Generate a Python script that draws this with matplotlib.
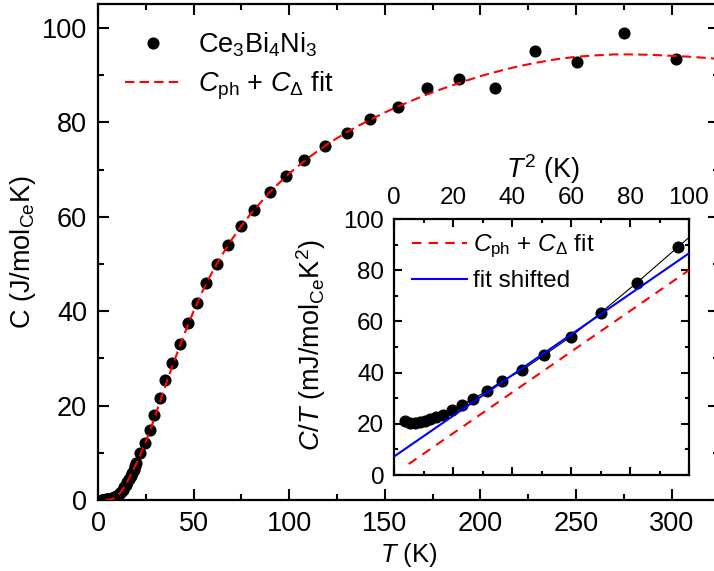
import numpy as np
import matplotlib
matplotlib.use('Agg')
import matplotlib.pyplot as plt
from matplotlib.ticker import MultipleLocator

plt.rcParams['font.family'] = ['Liberation Sans', 'DejaVu Sans']
plt.rcParams['mathtext.fontset'] = 'custom'
plt.rcParams['mathtext.rm'] = 'Liberation Sans'
plt.rcParams['mathtext.it'] = 'Liberation Sans:italic'
plt.rcParams['mathtext.bf'] = 'Liberation Sans:bold'

# calor especifico medido, C (J/mol_Ce K) vs T (K)
temp = [1.9, 2.3, 2.7, 3.0, 3.2, 3.5, 3.75, 4.06, 4.42, 4.79, 5.17, 5.62, 6.06,
        6.6, 7.14, 7.74, 8.37, 9.07, 9.82, 10.6, 11.4, 12.2, 13.0, 13.8, 14.6,
        15.4, 16.2, 17.0, 17.8, 18.6, 19.4, 20.1, 21.9, 24.5, 27.1, 29.3, 32.3,
        35.3, 38.7, 42.7, 47.0, 51.7, 56.6, 62.1, 67.9, 74.7, 81.8, 89.9, 98.4,
        107.8, 118.9, 130.0, 142.5, 156.9, 172.0, 189.0, 207.6, 228.5, 250.4,
        275.0, 302.2]
heat = [0.04, 0.05, 0.05, 0.06, 0.07, 0.08, 0.08, 0.10, 0.11, 0.13, 0.15, 0.18,
        0.22, 0.27, 0.34, 0.42, 0.53, 0.68, 0.87, 1.1, 1.4, 1.8, 2.2, 2.7, 3.2,
        3.8, 4.4, 5.0, 5.7, 6.4, 7.1, 7.9, 9.9, 12.1, 14.9, 18.0, 21.6, 25.4,
        29.1, 33.1, 37.4, 41.7, 45.9, 50.0, 54.1, 58.0, 61.5, 65.2, 68.7, 72.1,
        75.0, 77.7, 80.7, 83.3, 87.2, 89.1, 87.2, 95.1, 92.8, 99.0, 93.4]

# ajuste C_ph + C_delta
fit_temp = [4, 6, 8, 10, 12, 14, 16, 18, 20, 22, 25, 28, 32, 36, 40, 45, 50, 55,
            60, 65, 70, 75, 80, 90, 100, 110, 120, 130, 140, 150, 160, 170, 180,
            190, 200, 210, 220, 230, 240, 250, 260, 270, 280, 290, 300, 310, 320,
            330]
fit_heat = [0.0, 0.05, 0.3, 0.8, 1.7, 2.9, 4.4, 6.0, 7.7, 9.5, 12.4, 15.6, 20.3,
            25.1, 29.6, 35.0, 40.0, 44.5, 48.5, 52.0, 55.2, 58.1, 60.7, 65.3,
            69.2, 72.5, 75.4, 77.9, 80.1, 82.1, 83.9, 85.6, 87.1, 88.5, 89.8,
            90.9, 91.9, 92.7, 93.4, 93.9, 94.2, 94.4, 94.4, 94.3, 94.1, 93.9,
            93.6, 93.3]

# inset: C/T (mJ/mol_Ce K^2) vs T^2
t2 = [3.7, 5.4, 7.1, 8.8, 10.5, 12.2, 14.1, 16.5, 19.5, 22.9, 26.7, 31.6, 36.7,
      43.5, 51.0, 59.9, 70.1, 82.3, 96.4, 112.0]
c_over_t = [21.1, 20.4, 20.2, 20.6, 21.1, 21.7, 22.5, 23.4, 25.4, 27.3, 29.7,
            32.9, 36.8, 41.0, 46.9, 54.0, 63.4, 75.1, 89.2, 104.8]
fit_t2 = [5.0, 100.0]
fit_ct = [4.3, 80.0]
shift_t2 = [0.0, 100.0]
shift_ct = [7.2, 86.6]

fig = plt.figure(figsize=(7.14, 5.71), dpi=100)
ax = fig.add_axes([98 / 714, 71 / 571, 621.4 / 714, 495.6 / 571])

ax.plot(temp, heat, 'o', color='black', ms=7.7, zorder=2,
        label='Ce$_3$Bi$_4$Ni$_3$')
ax.plot(fit_temp, fit_heat, color='red', lw=1.5, dashes=(4.5, 2.5), zorder=3,
        label='$C_{\\mathrm{ph}}$ + $C_{\\Delta}$ fit')

ax.set_xlim(0, 325)
ax.set_ylim(0, 105)
ax.xaxis.set_major_locator(MultipleLocator(50))
ax.xaxis.set_minor_locator(MultipleLocator(25))
ax.yaxis.set_major_locator(MultipleLocator(20))
ax.yaxis.set_minor_locator(MultipleLocator(10))
ax.tick_params(which='both', direction='in', top=True, right=True, width=1.5,
               labelsize=19.5)
ax.tick_params(axis='x', which='major', pad=8)
ax.tick_params(axis='y', which='major', pad=8)
ax.tick_params(which='major', length=8)
ax.tick_params(which='minor', length=4.5)
for sp in ax.spines.values():
    sp.set_linewidth(1.6)

ax.set_xlabel('$T$ (K)', fontsize=18.5)
ax.set_ylabel('C (J/mol$_{\\mathrm{Ce}}$K)', fontsize=19.5)
ax.xaxis.set_label_coords(0.5, -0.082)
ax.yaxis.set_label_coords(-0.097, 0.5)

ax.legend(loc='upper left', bbox_to_anchor=(0.0435, 0.948), frameon=False,
          fontsize=19.5, handlelength=2.05, handletextpad=0.63,
          labelspacing=0.4, borderpad=0, borderaxespad=0, numpoints=1)

# inset C/T vs T^2
axi = fig.add_axes([394 / 714, 96 / 571, 295 / 714, 256 / 571])
axi.plot(t2, c_over_t, 'o-', color='black', ms=7.7, lw=0.8, zorder=2)
axi.plot(fit_t2, fit_ct, color='red', lw=1.5, dashes=(4.5, 3.5), zorder=3,
         label='$C_{\\mathrm{ph}}$ + $C_{\\Delta}$ fit')
axi.plot(shift_t2, shift_ct, color='blue', lw=1.5, zorder=4,
         label='fit shifted')

axi.set_xlim(0, 100)
axi.set_ylim(0, 100)
axi.xaxis.set_major_locator(MultipleLocator(20))
axi.xaxis.set_minor_locator(MultipleLocator(10))
axi.yaxis.set_major_locator(MultipleLocator(20))
axi.yaxis.set_minor_locator(MultipleLocator(10))
axi.tick_params(which='both', direction='in', top=True, right=True,
                bottom=True, labelbottom=False, labeltop=True, width=1.5,
                labelsize=17.5)
axi.tick_params(which='major', length=5.5, pad=7)
axi.tick_params(which='minor', length=3)
for sp in axi.spines.values():
    sp.set_linewidth(1.6)

axi.xaxis.set_label_position('top')
axi.set_xlabel('$T^2$ (K)', fontsize=19.5)
axi.set_ylabel('$C/T$ (mJ/mol$_{\\mathrm{Ce}}$K$^2$)', fontsize=19.5)
axi.xaxis.set_label_coords(0.505, 1.16)
axi.yaxis.set_label_coords(-0.224, 0.508)

axi.legend(loc='upper left', bbox_to_anchor=(0.061, 0.945), frameon=False,
           fontsize=17.5, handlelength=2.25, handletextpad=0.25,
           labelspacing=0.4, borderpad=0, borderaxespad=0)

fig.savefig('out.png', dpi=100)
